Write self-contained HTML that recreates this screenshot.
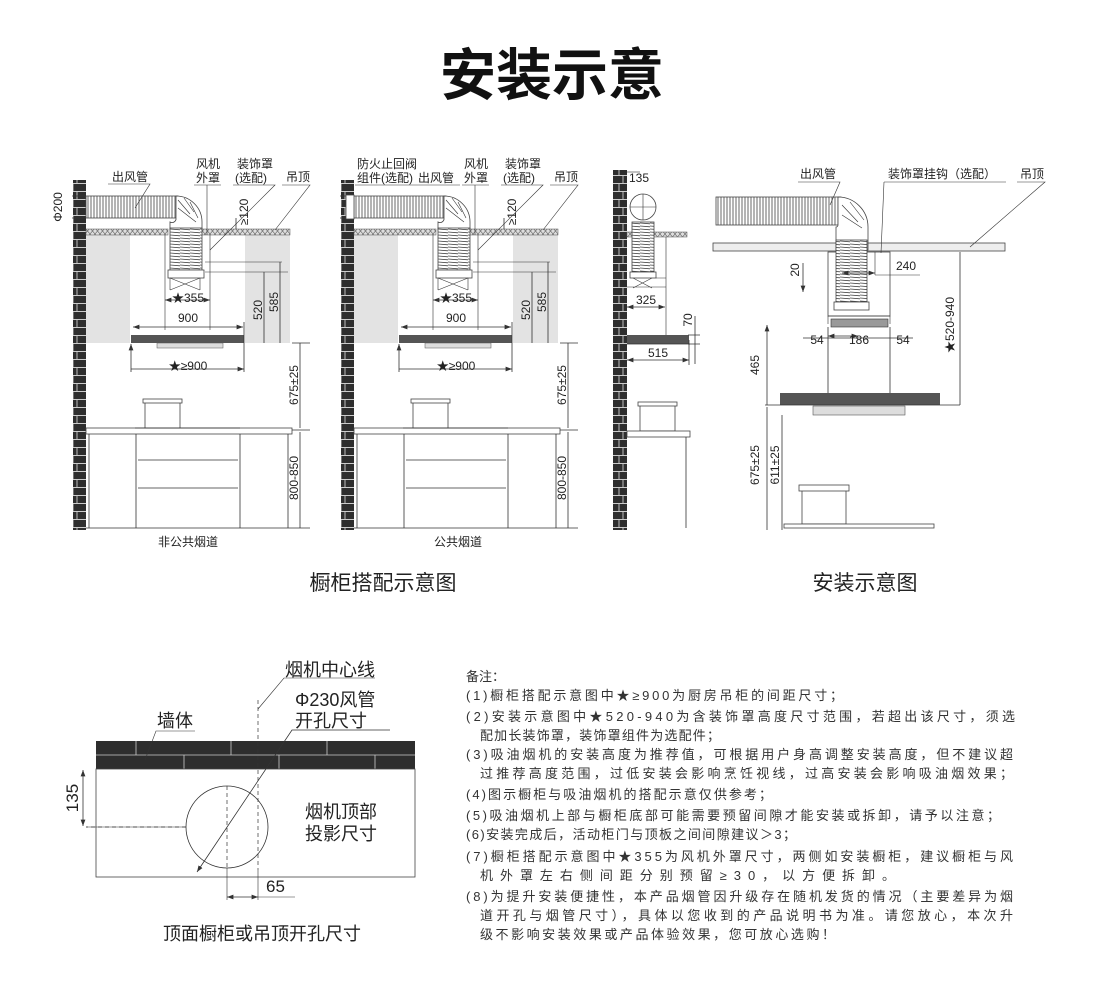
<!DOCTYPE html>
<html><head><meta charset="utf-8"><style>
body{margin:0;background:#fff;}
svg{display:block;font-family:"Liberation Sans","Noto Sans CJK SC",sans-serif;}
.t{fill:#222;font-size:12px}
.n{fill:#333;font-size:13px}
.ln{stroke:#333;stroke-width:0.8;fill:none}
.th{stroke:#333;stroke-width:0.6;fill:none}
</style></head><body>
<svg width="1100" height="988" viewBox="0 0 1100 988">
<defs>
<pattern id="rib" width="3" height="10" patternUnits="userSpaceOnUse"><rect width="3" height="10" fill="#fff"/><line x1="1" y1="0" x2="1" y2="10" stroke="#444" stroke-width="0.8"/></pattern>
<pattern id="ribv" width="10" height="3" patternUnits="userSpaceOnUse"><rect width="10" height="3" fill="#fff"/><line x1="0" y1="1" x2="10" y2="1.8" stroke="#444" stroke-width="0.8"/></pattern>
<pattern id="hat" width="5" height="6" patternUnits="userSpaceOnUse"><rect width="5" height="6" fill="#ddd"/><path d="M0 0L5 6M5 0L0 6" stroke="#666" stroke-width="0.6"/></pattern>
<pattern id="brick" width="14" height="16" patternUnits="userSpaceOnUse"><rect width="14" height="16" fill="#2e2e2e"/><path d="M0 7.5H14M0 15.5H14M7 0V7.5M3 8V16" stroke="#ccc" stroke-width="0.9"/></pattern>
<marker id="a" markerWidth="8" markerHeight="6" refX="8" refY="3" orient="auto-start-reverse"><path d="M0 0L8 3L0 6" fill="#333"/></marker>
</defs>

<text x="552" y="95" text-anchor="middle" font-size="56" font-weight="bold" fill="#111">安装示意</text>

<!-- Panel 1 & 2 -->
<g id="p1">
<rect x="73" y="180" width="13" height="350" fill="url(#brick)"/>
<rect x="86" y="235" width="44" height="108" fill="#e3e3e3"/>
<rect x="245" y="235" width="45" height="108" fill="#e3e3e3"/>
<rect x="86" y="229" width="82" height="6" fill="url(#hat)" stroke="#555" stroke-width="0.5"/>
<rect x="200" y="229" width="90" height="6" fill="url(#hat)" stroke="#555" stroke-width="0.5"/>
<rect x="86" y="196" width="92" height="22" fill="url(#rib)" stroke="#444" stroke-width="0.8"/>
<path d="M176 196 A26 26 0 0 1 202 222 L202 230 L170 230 L170 222 A4 4 0 0 0 176 218Z" fill="#fff" stroke="#444" stroke-width="0.8"/>
<path d="M178 200L190 214M184 198L194 212M190 202L198 218M178 208L196 222" class="th"/>
<rect x="170" y="228" width="32" height="42" fill="url(#ribv)" stroke="#444" stroke-width="0.8"/>
<rect x="168" y="270" width="36" height="8" fill="#fff" stroke="#444" stroke-width="0.8"/>
<path d="M170 278L200 290M200 278L170 290M170 278V290M200 278V290" class="th"/>
<path d="M165 235V330M210 235V330M205 272H288M205 262H282" class="th"/>
<rect x="131" y="335" width="113" height="8" fill="#555"/>
<rect x="157" y="343" width="66" height="5" fill="#ddd" stroke="#555" stroke-width="0.5"/>
<rect x="86" y="428" width="206" height="6" fill="#fff" stroke="#444" stroke-width="0.8"/>
<rect x="145" y="402" width="35" height="26" fill="#fff" stroke="#444" stroke-width="0.8"/>
<rect x="143" y="399" width="39" height="4" fill="#fff" stroke="#444" stroke-width="0.8"/>
<path d="M135 428H240" class="ln"/>
<path d="M89 434V528M136 434V528M240 434V528M288 434V528M138 460H238M138 488H238M86 528H292" class="ln"/>
<path d="M133 327H243" class="ln" marker-start="url(#a)" marker-end="url(#a)"/>
<path d="M131 344V372M244 322V372M131 369H244" class="ln" marker-start="url(#a)" marker-end="url(#a)"/>
<path d="M165 300H210" class="ln" marker-start="url(#a)" marker-end="url(#a)"/>
<path d="M264 272V343M280 262V343M300 343V428M300 432V528M292 343H310M292 430H310M292 528H310" class="ln"/>
<path d="M236 218V229M72 196H86M72 218H86" class="ln"/>
<text x="188" y="302" text-anchor="middle" class="t">★355</text>
<text x="188" y="322" text-anchor="middle" class="t">900</text>
<text x="188" y="370" text-anchor="middle" class="t">★≥900</text>
<text transform="translate(262 310) rotate(-90)" text-anchor="middle" class="t">520</text>
<text transform="translate(278 302) rotate(-90)" text-anchor="middle" class="t">585</text>
<text transform="translate(298 385) rotate(-90)" text-anchor="middle" class="t">675±25</text>
<text transform="translate(298 478) rotate(-90)" text-anchor="middle" class="t">800-850</text>
<text transform="translate(248 212) rotate(-90)" text-anchor="middle" class="t">≥120</text>
</g>
<text transform="translate(62 207) rotate(-90)" text-anchor="middle" class="t" font-size="10">Φ200</text>
<text x="112" y="181" class="t">出风管</text>
<path d="M108 184H150L135 208" class="th"/>
<text x="196" y="168" class="t">风机</text><text x="196" y="182" class="t">外罩</text>
<path d="M194 185H221M207 185V235" class="th"/>
<text x="237" y="168" class="t">装饰罩</text><text x="235" y="182" class="t">(选配)</text>
<path d="M233 185H275L210 250" class="th"/>
<text x="286" y="181" class="t">吊顶</text>
<path d="M282 185H310L275 230" class="th"/>
<text x="188" y="546" text-anchor="middle" class="t" font-size="11">非公共烟道</text>

<use href="#p1" x="268"/>
<rect x="346" y="195" width="8" height="24" fill="#fff" stroke="#444" stroke-width="0.8"/>
<text x="357" y="168" class="t">防火止回阀</text><text x="357" y="182" class="t">组件(选配)</text>
<text x="418" y="182" class="t">出风管</text>
<text x="464" y="168" class="t">风机</text><text x="464" y="182" class="t">外罩</text>
<text x="505" y="168" class="t">装饰罩</text><text x="503" y="182" class="t">(选配)</text>
<text x="554" y="181" class="t">吊顶</text>
<path d="M355 185H460M462 185H489M475 185V235M501 185H543L478 250M550 185H578L543 230" class="th"/>
<text x="458" y="546" text-anchor="middle" class="t" font-size="11">公共烟道</text>

<!-- Panel 3 -->
<rect x="613" y="170" width="14" height="360" fill="url(#brick)"/>
<circle cx="643" cy="207" r="13" fill="#fff" stroke="#444" stroke-width="0.8"/>
<path d="M630 207H656M643 194V220" class="th"/>
<rect x="627" y="232" width="60" height="5" fill="url(#hat)" stroke="#555" stroke-width="0.5"/>
<rect x="632" y="222" width="22" height="50" fill="url(#ribv)" stroke="#444" stroke-width="0.8"/>
<rect x="630" y="272" width="26" height="6" fill="#fff" stroke="#444" stroke-width="0.8"/>
<path d="M633 278L652 288M652 278L633 288M656 278H666M627 287H666M666 237V335" class="th"/>
<rect x="627" y="335" width="62" height="9" fill="#555"/>
<path d="M627 344H690" class="ln"/>
<path d="M627 307H665" class="ln" marker-start="url(#a)" marker-end="url(#a)"/>
<path d="M627 360H689" class="ln" marker-start="url(#a)" marker-end="url(#a)"/>
<path d="M689 340V365M695 316V364M688 335H700M688 344H700" class="ln"/>
<text x="646" y="304" text-anchor="middle" class="t">325</text>
<text x="658" y="357" text-anchor="middle" class="t">515</text>
<text transform="translate(692 320) rotate(-90)" text-anchor="middle" class="t">70</text>
<text x="629" y="182" class="t">135</text>
<path d="M627 172H640" class="th"/>
<rect x="640" y="405" width="35" height="26" fill="#fff" stroke="#444" stroke-width="0.8"/>
<rect x="638" y="402" width="39" height="4" fill="#fff" stroke="#444" stroke-width="0.8"/>
<rect x="627" y="431" width="63" height="6" fill="#fff" stroke="#444" stroke-width="0.8"/>
<path d="M686 437V528" class="ln"/>

<!-- Panel 4 -->
<rect x="713" y="243" width="292" height="8" fill="#eee" stroke="#444" stroke-width="0.8"/>
<rect x="716" y="197" width="125" height="28" fill="url(#rib)" stroke="#444" stroke-width="0.8"/>
<path d="M838 197 A30 30 0 0 1 868 227 L868 250 L836 250 L836 227 A2 2 0 0 0 838 225Z" fill="#fff" stroke="#444" stroke-width="0.8"/>
<path d="M842 205L858 222M850 202L864 220M842 215L862 228" class="th"/>
<rect x="828" y="252" width="62" height="64" fill="#fff" stroke="#444" stroke-width="0.8"/>
<rect x="836" y="240" width="31" height="62" fill="url(#ribv)" stroke="#444" stroke-width="0.8"/>
<rect x="834" y="302" width="35" height="8" fill="#fff" stroke="#444" stroke-width="0.8"/>
<path d="M828 316H890M828 316V324M890 316V324" class="th"/>
<rect x="831" y="319" width="57" height="8" fill="#999" stroke="#333" stroke-width="0.6"/>
<path d="M828 327V393M890 327V393" class="ln"/>
<rect x="780" y="393" width="160" height="12" fill="#555"/>
<rect x="813" y="406" width="92" height="9" fill="#ddd" stroke="#555" stroke-width="0.6"/>
<path d="M765 405H960" class="ln"/>
<path d="M803 338H913" class="ln"/>
<path d="M828 336H858" class="ln" marker-start="url(#a)" marker-end="url(#a)"/>
<path d="M842 273H875" class="ln" marker-start="url(#a)" marker-end="url(#a)"/>
<path d="M875 252V275M875 275H920" class="th"/>
<path d="M767 325V405M767 407V530M782 415V530M960 252V405M803 263V292" class="ln" marker-start="url(#a)" marker-end="url(#a)"/>
<text x="817" y="344" text-anchor="middle" class="t" font-size="14">54</text>
<text x="859" y="344" text-anchor="middle" class="t" font-size="14">186</text>
<text x="903" y="344" text-anchor="middle" class="t" font-size="14">54</text>
<text x="906" y="270" text-anchor="middle" class="t" font-size="14">240</text>
<text transform="translate(799 270) rotate(-90)" text-anchor="middle" class="t" font-size="13">20</text>
<text transform="translate(759 365) rotate(-90)" text-anchor="middle" class="t" font-size="14">465</text>
<text transform="translate(954 325) rotate(-90)" text-anchor="middle" class="t" font-size="14">★520-940</text>
<text transform="translate(759 465) rotate(-90)" text-anchor="middle" class="t" font-size="14">675±25</text>
<text transform="translate(779 465) rotate(-90)" text-anchor="middle" class="t" font-size="14">611±25</text>
<rect x="802" y="490" width="44" height="34" fill="#fff" stroke="#444" stroke-width="0.8"/>
<rect x="799" y="485" width="50" height="6" fill="#fff" stroke="#444" stroke-width="0.8"/>
<rect x="784" y="524" width="150" height="4" fill="#fff" stroke="#444" stroke-width="0.8"/>
<text x="800" y="178" class="t">出风管</text>
<path d="M798 182H840L830 205" class="th"/>
<text x="888" y="178" class="t">装饰罩挂钩（选配）</text>
<path d="M884 182H1006M884 182L881 253" class="th"/>
<text x="1020" y="178" class="t">吊顶</text>
<path d="M1017 182H1045L970 247" class="th"/>

<text x="383" y="590" text-anchor="middle" font-size="21" fill="#222">橱柜搭配示意图</text>
<text x="865" y="590" text-anchor="middle" font-size="21" fill="#222">安装示意图</text>

<!-- bottom left -->
<rect x="96" y="741" width="319" height="28" fill="#2e2e2e"/>
<path d="M96 755H415M136 741V755M231 741V755M327 741V755M184 755V769M279 755V769M375 755V769" stroke="#ccc" stroke-width="0.8"/>
<rect x="96" y="769" width="319" height="108" fill="#fff" stroke="#444" stroke-width="0.8"/>
<circle cx="227" cy="827" r="41" fill="none" stroke="#333" stroke-width="0.8"/>
<path d="M186 827H86M227 786V868M258 700V870" stroke="#333" stroke-width="0.7" stroke-dasharray="4 3" fill="none"/>
<path d="M86 827H186" class="th"/>
<path d="M83 770V826" class="ln" marker-start="url(#a)" marker-end="url(#a)"/>
<path d="M227 868V900M258 870V900" class="th"/>
<path d="M227 897H258" class="ln" marker-start="url(#a)" marker-end="url(#a)"/>
<path d="M258 897H295" class="th"/>
<path d="M197 872L292 730H390" class="ln" marker-start="url(#a)"/>
<path d="M258 709L284 678H375" class="th"/>
<path d="M145 760L156 731H195" class="th"/>
<text x="285" y="676" font-size="18" fill="#222">烟机中心线</text>
<text x="295" y="706" font-size="18" fill="#222">Φ230风管</text>
<text x="295" y="727" font-size="18" fill="#222">开孔尺寸</text>
<text x="157" y="727" font-size="18" fill="#222">墙体</text>
<text x="305" y="818" font-size="18" fill="#222">烟机顶部</text>
<text x="305" y="840" font-size="18" fill="#222">投影尺寸</text>
<text transform="translate(78 798) rotate(-90)" text-anchor="middle" font-size="17" fill="#222">135</text>
<text x="266" y="892" font-size="17" fill="#222">65</text>
<text x="262" y="940" text-anchor="middle" font-size="18" fill="#222">顶面橱柜或吊顶开孔尺寸</text>

<!-- notes -->
<g class="n" font-size="15.5">
<text x="466" y="681">备注：</text>
<text x="466" y="700" textLength="377" lengthAdjust="spacing">(1)橱柜搭配示意图中★≥900为厨房吊柜的间距尺寸；</text>
<text x="466" y="721" textLength="549" lengthAdjust="spacing">(2)安装示意图中★520-940为含装饰罩高度尺寸范围，若超出该尺寸，须选</text>
<text x="480" y="740" textLength="240" lengthAdjust="spacing">配加长装饰罩，装饰罩组件为选配件；</text>
<text x="466" y="759" textLength="547" lengthAdjust="spacing">(3)吸油烟机的安装高度为推荐值，可根据用户身高调整安装高度，但不建议超</text>
<text x="480" y="778" textLength="533" lengthAdjust="spacing">过推荐高度范围，过低安装会影响烹饪视线，过高安装会影响吸油烟效果；</text>
<text x="466" y="799" textLength="306" lengthAdjust="spacing">(4)图示橱柜与吸油烟机的搭配示意仅供参考；</text>
<text x="466" y="820" textLength="534" lengthAdjust="spacing">(5)吸油烟机上部与橱柜底部可能需要预留间隙才能安装或拆卸，请予以注意；</text>
<text x="466" y="839" textLength="330" lengthAdjust="spacing">(6)安装完成后，活动柜门与顶板之间间隙建议＞3；</text>
<text x="466" y="861" textLength="547" lengthAdjust="spacing">(7)橱柜搭配示意图中★355为风机外罩尺寸，两侧如安装橱柜，建议橱柜与风</text>
<text x="480" y="880" textLength="415" lengthAdjust="spacing">机外罩左右侧间距分别预留≥30，以方便拆卸。</text>
<text x="466" y="901" textLength="547" lengthAdjust="spacing">(8)为提升安装便捷性，本产品烟管因升级存在随机发货的情况（主要差异为烟</text>
<text x="480" y="920" textLength="533" lengthAdjust="spacing">道开孔与烟管尺寸），具体以您收到的产品说明书为准。请您放心，本次升</text>
<text x="480" y="939" textLength="355" lengthAdjust="spacing">级不影响安装效果或产品体验效果，您可放心选购！</text>
</g>
</svg>
</body></html>
